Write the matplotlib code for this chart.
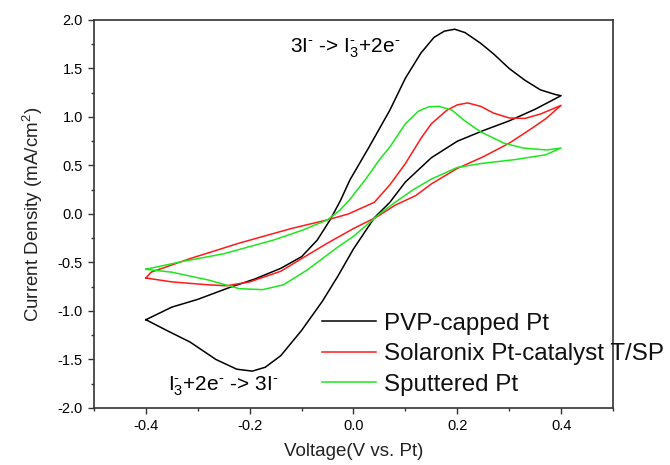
import matplotlib
matplotlib.use("Agg")
import matplotlib.pyplot as plt
from matplotlib.ticker import MultipleLocator

plt.rcParams['font.family'] = ['Liberation Sans', 'DejaVu Sans']
plt.rcParams['mathtext.fontset'] = 'custom'
plt.rcParams['mathtext.rm'] = 'Liberation Sans'
plt.rcParams['mathtext.it'] = 'Liberation Sans'
plt.rcParams['mathtext.default'] = 'regular'

# PVP-capped Pt (anodic sweep then cathodic sweep)
pvp_v = [-0.4, -0.35, -0.3, -0.24, -0.19, -0.14, -0.1, -0.07, -0.045, -0.025, -0.007, 0.03, 0.07, 0.1, 0.13,
         0.155, 0.175, 0.195, 0.215, 0.245, 0.27, 0.3, 0.33, 0.36, 0.39, 0.4,
         0.35, 0.3, 0.25, 0.2, 0.15, 0.1, 0.07, 0.04, 0.0, -0.03, -0.06, -0.1, -0.14, -0.17, -0.195,
         -0.225, -0.265, -0.315, -0.36, -0.4]
pvp_j = [-1.09, -0.96, -0.88, -0.76, -0.67, -0.56, -0.44, -0.27, -0.06, 0.14, 0.35, 0.69, 1.07, 1.40, 1.66,
         1.82, 1.885, 1.905, 1.87, 1.76, 1.65, 1.50, 1.38, 1.28, 1.23, 1.22,
         1.08, 0.96, 0.86, 0.75, 0.58, 0.33, 0.12, -0.04, -0.36, -0.64, -0.90, -1.20, -1.46, -1.58, -1.62,
         -1.60, -1.50, -1.32, -1.20, -1.09]

# Solaronix Pt-catalyst T/SP
sol_v = [-0.4, -0.39, -0.315, -0.22, -0.12, -0.05, -0.01, 0.04, 0.07, 0.1, 0.13, 0.15, 0.18, 0.2, 0.22, 0.245,
         0.27, 0.3, 0.33, 0.36, 0.38, 0.4,
         0.37, 0.34, 0.3, 0.25, 0.2, 0.15, 0.12, 0.08, 0.045, 0.0, -0.05, -0.1, -0.14, -0.2, -0.245, -0.28,
         -0.35, -0.4]
sol_j = [-0.66, -0.60, -0.46, -0.30, -0.15, -0.06, 0.0, 0.12, 0.30, 0.52, 0.78, 0.93, 1.07, 1.125, 1.145, 1.11,
         1.04, 0.99, 0.985, 1.03, 1.075, 1.12,
         0.98, 0.87, 0.73, 0.59, 0.47, 0.31, 0.19, 0.09, -0.03, -0.15, -0.30, -0.46, -0.59, -0.70, -0.74, -0.73,
         -0.70, -0.66]

# Sputtered Pt
spu_v = [-0.4, -0.33, -0.25, -0.155, -0.1, -0.05, -0.026, -0.007, 0.025, 0.05, 0.07, 0.1, 0.125, 0.145, 0.165,
         0.19, 0.212, 0.244, 0.29, 0.327, 0.372, 0.4,
         0.37, 0.31, 0.245, 0.2, 0.15, 0.115, 0.08, 0.05, 0.0, -0.03, -0.06, -0.09, -0.135, -0.175, -0.22,
         -0.28, -0.35, -0.4]
spu_j = [-0.57, -0.49, -0.41, -0.27, -0.17, -0.06, 0.04, 0.15, 0.37, 0.56, 0.69, 0.93, 1.06, 1.105, 1.11,
         1.07, 0.97, 0.85, 0.73, 0.68, 0.66, 0.68,
         0.61, 0.56, 0.52, 0.48, 0.36, 0.25, 0.12, 0.0, -0.23, -0.34, -0.46, -0.58, -0.73, -0.78, -0.77,
         -0.68, -0.60, -0.57]

labels = ["PVP-capped Pt", "Solaronix Pt-catalyst T/SP", "Sputtered Pt"]
colors = ["#000000", "#ff1a1a", "#1ee61e"]

fig = plt.figure(figsize=(6.7, 4.65), dpi=100)
ax = fig.add_axes([0.1403, 0.1226, 0.7746, 0.8344])

for v, j, lab, c in zip([pvp_v, sol_v, spu_v], [pvp_j, sol_j, spu_j], labels, colors):
    ax.plot(v, j, color=c, lw=1.1, label=lab, solid_joinstyle='round')

ax.set_xlim(-0.5, 0.5)
ax.set_ylim(-2.0, 2.0)
ax.xaxis.set_minor_locator(MultipleLocator(0.1))
ax.yaxis.set_minor_locator(MultipleLocator(0.25))
ax.set_xticks([-0.4, -0.2, 0.0, 0.2, 0.4])
ax.set_xticklabels(["-0.4", "-0.2", "0.0", "0.2", "0.4"])
ax.set_yticks([2.0, 1.5, 1.0, 0.5, 0.0, -0.5, -1.0, -1.5, -2.0])
ax.set_yticklabels(["2.0", "1.5", "1.0", "0.5", "0.0", "-0.5", "-1.0", "-1.5", "-2.0"])
ax.tick_params(which='both', direction='out', top=False, right=False, labelsize=10.5, width=1.0, color='#333333')
ax.tick_params(which='major', length=4, pad=4)
ax.tick_params(which='minor', length=2.5)
for s in ax.spines.values():
    s.set_linewidth(1.2)
    s.set_color('#333333')

ax.set_xlabel("Voltage(V vs. Pt)", fontsize=13.5, labelpad=7, color='#222222')
ax.set_ylabel("Current Density (mA/cm$^{2}$)", fontsize=13.5, labelpad=9, color='#222222')

ax.text(-0.122, 1.71, r"3I$^{\text{-}}$ -> I$_{3}^{\text{-}}$+2e$^{\text{-}}$", fontsize=15, ha='left', va='center')
ax.text(-0.357, -1.78, r"I$_{3}^{\text{-}}$+2e$^{\text{-}}$ -> 3I$^{\text{-}}$", fontsize=15, ha='left', va='center')

leg = ax.legend(loc='upper left', bbox_to_anchor=(0.44, 0.245), frameon=False, fontsize=17.4,
                handlelength=2.2, handletextpad=0.35, labelspacing=0.35, borderaxespad=0, borderpad=0)
for t in leg.get_texts():
    t.set_color('#111111')

fig.savefig("out.png", dpi=100)
